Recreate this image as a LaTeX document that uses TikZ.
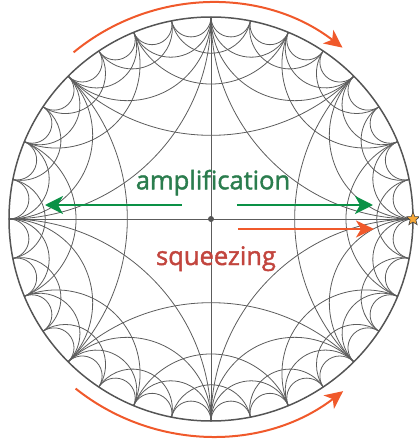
\documentclass[tikz,border=0pt]{standalone}
\usepackage{fontspec}
\newfontfamily\lblfont[FakeBold=1.6]{Open Sans}
\usetikzlibrary{arrows.meta,shapes.geometric}
\definecolor{geogray}{HTML}{5C5C5C}
\definecolor{rimgray}{HTML}{555555}
\definecolor{arrgreen}{HTML}{0A9146}
\definecolor{txtgreen}{HTML}{2B7D4E}
\definecolor{arrorange}{HTML}{F0592B}
\definecolor{txtred}{HTML}{C2453E}
\definecolor{stargold}{HTML}{F7A838}
\tikzset{
  geoline/.style={draw=geogray, line width=0.8pt},
  rimline/.style={draw=rimgray, line width=1.5pt},
  garrow/.style={draw=arrgreen, line width=2.2pt, -{Stealth[length=18pt,width=18pt,inset=5pt]}},
  oarrow/.style={draw=arrorange, line width=2pt, -{Stealth[length=18pt,width=17pt,inset=5pt]}},
  lbl/.style={anchor=base, inner sep=0pt, font=\lblfont\fontsize{25.5}{30}\selectfont}
}
\newcommand\hgeo[2]{%
 \pgfmathsetmacro\hgM{(#1+#2)/2}%
 \pgfmathsetmacro\hgH{(#2-#1)/2}%
 \pgfmathsetmacro\hgD{202/cos(\hgH)}%
 \pgfmathsetmacro\hgR{202*tan(\hgH)}%
 \pgfmathsetmacro\hgS{\hgM+90+\hgH}%
 \pgfmathsetmacro\hgE{\hgM+270-\hgH}%
 \draw[geoline] (\hgM:\hgD pt) ++(\hgS:\hgR pt) arc[start angle=\hgS, end angle=\hgE, radius=\hgR pt];}
\begin{document}
\begin{tikzpicture}[x=1pt,y=1pt]
\useasboundingbox (-211,-226) rectangle (208,219);
% tessellation
\foreach \k in {0,...,7} {\hgeo{\k*45}{\k*45+90}}
\foreach \k in {0,...,15} {\hgeo{\k*22.5}{\k*22.5+45}}
\foreach \k in {0,...,31} {\hgeo{\k*11.25}{\k*11.25+22.5}}
\foreach \k in {0,...,31} {\hgeo{\k*11.25}{\k*11.25+11.25}}
\coordinate (cW) at (180:202pt);
\coordinate (cE) at (0:202pt);
\coordinate (cN) at (90:202pt);
\coordinate (cS) at (270:202pt);
\draw[geoline] (cW) -- (cE);
\draw[geoline] (cN) -- (cS);
\draw[rimline] (0,0) circle[radius=202pt];
\node[circle, fill=rimgray, inner sep=0pt, minimum size=6pt] (ctr) at (0,0) {};
% arrows
\coordinate (gLs) at (-29,14);
\coordinate (gLe) at (-166,14);
\coordinate (gRs) at (26,14);
\coordinate (gRe) at (162,14);
\coordinate (oRs) at (27,-10);
\coordinate (oRe) at (163,-10);
\draw[garrow] (gLs) -- (gLe);
\draw[garrow] (gRs) -- (gRe);
\draw[oarrow] (oRs) -- (oRe);
\coordinate (tArc) at (129.5:216pt);
\coordinate (bArc) at (231.4:217pt);
\draw[oarrow] (tArc) arc[start angle=129.5, end angle=52.5, radius=216pt];
\draw[oarrow] (bArc) arc[start angle=231.4, end angle=307.5, radius=217pt];
% labels
\node[lbl, text=txtgreen] (amp) at (2,29.7) {amplification};
\node[lbl, text=txtred] (sqz) at (5,-46) {squeezing};
\node[star, star points=5, star point ratio=2.3, minimum size=14pt, inner sep=0pt, fill=stargold, draw=black!75, line width=0.6pt] (cusp) at (cE) {};
\end{tikzpicture}
\end{document}
